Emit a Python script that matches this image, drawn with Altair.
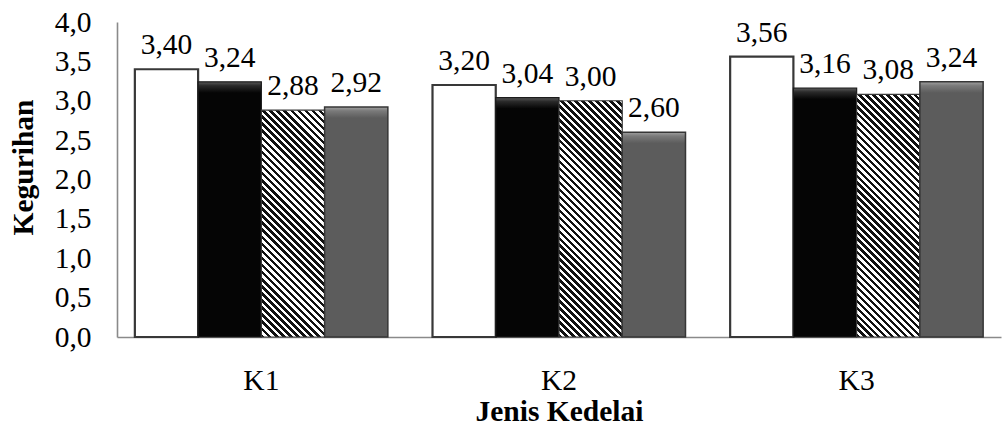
import altair as alt
import pandas as pd

# Soybean types (x axis) and the four treatments plotted in each group
groups = ["K1", "K2", "K3"]
series = ["P1", "P2", "P3", "P4"]

# Mean savouriness score per treatment, one list per soybean type
k1_values = [3.40, 3.24, 2.88, 2.92]
k2_values = [3.20, 3.04, 3.00, 2.60]
k3_values = [3.56, 3.16, 3.08, 3.24]

y_ticks = [0.0, 0.5, 1.0, 1.5, 2.0, 2.5, 3.0, 3.5, 4.0]

rows = []
for g, vals in zip(groups, [k1_values, k2_values, k3_values]):
    for s, v in zip(series, vals):
        rows.append({"group": g, "series": s, "value": v})
df = pd.DataFrame(rows)

# Plot geometry
W, H = 884, 315
Y_MAX = 4.0
P_IN, P_OUT = 0.15, 0.06
step = W / (len(groups) - P_IN + 2 * P_OUT)
bar_w = step * (1 - P_IN) / len(series)

FONT = "Liberation Serif"
FS = 29.5


def stop(offset, color):
    return alt.GradientStop(offset=min(max(offset, 0.0), 1.0), color=color)


def hatch(value, period=7.0):
    """Diagonal black/white stripes at 45 degrees, built from a hard-stop gradient."""
    h = value / Y_MAX * H
    k = h / bar_w
    dx = (1 + k) / (1 + k * k)
    n = max(1, round((bar_w + h) / period))
    stops = []
    for i in range(n):
        a, m, b = i / n, (i + 0.5) / n, (i + 1) / n
        stops += [stop(a, "#111111"), stop(m, "#111111"),
                  stop(m, "#ffffff"), stop(b, "#ffffff")]
    return alt.LinearGradient(gradient="linear", stops=stops,
                              x1=0, y1=1, x2=dx, y2=1 - k * dx)


def bevel(value, top, mid, body, depth=11.0):
    """Vertical shading that gives the bar a lighter bevelled top edge."""
    h = value / Y_MAX * H
    b = depth / h
    return alt.LinearGradient(gradient="linear", x1=0, y1=0, x2=0, y2=1, stops=[
        stop(0, top), stop(b * 0.35, mid), stop(b, body), stop(1, body)])


x_enc = alt.X(
    "group:N",
    scale=alt.Scale(domain=groups, paddingInner=P_IN, paddingOuter=P_OUT),
    axis=alt.Axis(title="Jenis Kedelai", labelAngle=0, ticks=False, tickSize=0,
                  labelPadding=43, labelBaseline="middle",
                  titleY=74, titleBaseline="middle"),
)
xo_enc = alt.XOffset("series:N", scale=alt.Scale(domain=series, paddingInner=0, paddingOuter=0))
y_enc = alt.Y(
    "value:Q",
    scale=alt.Scale(domain=[0, Y_MAX], nice=False, zero=True),
    axis=alt.Axis(title="Kegurihan", values=y_ticks, grid=False, ticks=False, tickSize=0,
                  labelPadding=26, labelExpr="replace(format(datum.value, '.1f'), '.', ',')",
                  titleX=-94, titleY=145, titleAlign="center", titleBaseline="middle"),
)

base = alt.Chart(df).encode(x=x_enc, xOffset=xo_enc, y=y_enc)

layers = []
for g, vals in zip(groups, [k1_values, k2_values, k3_values]):
    for s, v in zip(series, vals):
        if s == "P1":
            mark = dict(fill="#ffffff", stroke="#383838", strokeWidth=2.2)
        elif s == "P2":
            mark = dict(fill=bevel(v, "#5a5a5a", "#2a2a2a", "#050505"),
                        stroke="#1c1c1c", strokeWidth=1.2)
        elif s == "P3":
            mark = dict(fill=hatch(v), stroke="#3a3a3a", strokeWidth=1.2)
        else:
            mark = dict(fill=bevel(v, "#a0a0a0", "#7a7a7a", "#5c5c5c"),
                        stroke="#363636", strokeWidth=1.5)
        layers.append(
            base.mark_bar(**mark).transform_filter(
                f"datum.group == '{g}' && datum.series == '{s}'")
        )

labels = base.mark_text(
    dy=-15, baseline="alphabetic", align="center", font=FONT, fontSize=FS, color="#000000"
).transform_calculate(
    label="replace(format(datum.value, '.2f'), '.', ',')"
).encode(text="label:N")

chart = alt.layer(*layers, labels).properties(
    width=W, height=H,
    autosize=alt.AutoSizeParams(type="none"),
    padding={"left": 117, "top": 22, "right": 1003 - 117 - W, "bottom": 435 - 22 - H},
    background="#ffffff",
).configure_view(stroke=None).configure_axis(
    labelFont=FONT, labelFontSize=FS, labelColor="#000000",
    titleFont=FONT, titleFontSize=FS, titleFontWeight="bold", titleColor="#000000",
    domainColor="#8a8a8a", domainWidth=1.6,
)

chart.save("out.html", embed_options={"renderer": "svg", "actions": False})
